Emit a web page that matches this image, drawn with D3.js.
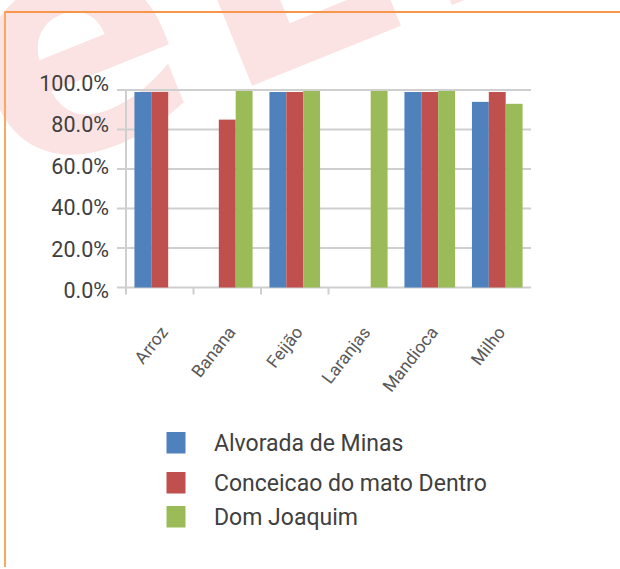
<!DOCTYPE html>
<html>
<head>
<meta charset="utf-8">
<script src="https://cdn.jsdelivr.net/npm/d3@7"></script>
<style>
  body { margin: 0; background: #fff; }
  svg text { font-family: Roboto, "Liberation Sans", sans-serif; }
</style>
</head>
<body>
<svg id="drawing_region"></svg>
<script>
// data
const categories = ["Arroz", "Banana", "Feijão", "Laranjas", "Mandioca", "Milho"];
const seriesNames = ["Alvorada de Minas", "Conceicao do mato Dentro", "Dom Joaquim"];
const alvorada = [0.99, null, 0.99, null, 0.99, 0.94];
const conceicao = [0.99, 0.85, 0.99, null, 0.99, 0.99];
const domJoaquim = [null, 0.995, 0.995, 0.995, 0.995, 0.93];
const yTicks = [0, 0.2, 0.4, 0.6, 0.8, 1.0];
const colors = ["#4f81bd", "#c0504d", "#9bbb59"];

const width = 620;
const height = 569;
const margin = { top: 90, right: 89, bottom: 281.5, left: 126 };

const svg = d3.select("#drawing_region")
  .attr("width", width)
  .attr("height", height);

svg.append("rect").attr("width", width).attr("height", height).attr("fill", "#fff");

// watermark behind everything
svg.append("text")
  .attr("transform", "translate(14, 182) rotate(-22)")
  .style("font-family", "'DejaVu Sans'")
  .style("font-weight", "bold")
  .style("font-size", "310px")
  .style("letter-spacing", "18px")
  .attr("fill", "#fbe3e3")
  .text("eLLL");

// orange frame lines
svg.append("line")
  .attr("x1", 4).attr("x2", width).attr("y1", 12).attr("y2", 12)
  .attr("stroke", "#f7964a").attr("stroke-width", 2);
svg.append("line")
  .attr("x1", 5).attr("x2", 5).attr("y1", 11).attr("y2", 567)
  .attr("stroke", "#f9a860").attr("stroke-width", 2);

const innerW = width - margin.left - margin.right;
const innerH = height - margin.top - margin.bottom;

const chart = svg.append("g")
  .attr("transform", `translate(${margin.left}, ${margin.top})`);

const x0 = d3.scaleBand()
  .domain(categories)
  .range([0, innerW])
  .paddingInner(0.25)
  .paddingOuter(0.125);

const x1 = d3.scaleBand()
  .domain(seriesNames)
  .range([0, x0.bandwidth()]);

const y = d3.scaleLinear().domain([0, 1]).range([innerH, 0]);
// tick labels sit on a slightly wider spacing than the gridlines
const yLabel = d3.scaleLinear().domain([0, 1]).range([innerH + 10.8, 1]);

const fmt = d3.format(".1%");

// gridlines with left tick stubs
chart.append("g")
  .selectAll("line")
  .data(yTicks)
  .join("line")
  .attr("x1", -9)
  .attr("x2", innerW)
  .attr("y1", (d) => y(d))
  .attr("y2", (d) => y(d))
  .attr("stroke", "#cfcfcf")
  .attr("stroke-width", 2);

chart.append("g")
  .selectAll("text")
  .data(yTicks)
  .join("text")
  .attr("x", -17)
  .attr("y", (d) => yLabel(d))
  .attr("text-anchor", "end")
  .attr("fill", "#404040")
  .style("font-size", "21.5px")
  .text((d) => fmt(d));

// value axis line
chart.append("line")
  .attr("x1", 0).attr("x2", 0)
  .attr("y1", 0).attr("y2", innerH + 7)
  .attr("stroke", "#cfcfcf").attr("stroke-width", 2);

// category tick marks (only the first few show in the original)
const boundaries = categories.map((c) => x0(c) - x0.step() * x0.paddingOuter());
chart.append("g")
  .selectAll("line")
  .data(boundaries.slice(1, 4))
  .join("line")
  .attr("x1", (d) => d).attr("x2", (d) => d)
  .attr("y1", innerH).attr("y2", innerH + 7)
  .attr("stroke", "#cfcfcf").attr("stroke-width", 2);

// bars
const series = [alvorada, conceicao, domJoaquim];
const barData = [];
categories.forEach((c, i) => {
  seriesNames.forEach((s, j) => {
    if (series[j][i] != null) {
      barData.push({ category: c, series: s, value: series[j][i], color: colors[j] });
    }
  });
});

chart.append("g")
  .selectAll("rect")
  .data(barData)
  .join("rect")
  .attr("x", (d) => x0(d.category) + x1(d.series))
  .attr("y", (d) => y(d.value))
  .attr("width", x1.bandwidth())
  .attr("height", (d) => innerH - y(d.value))
  .attr("fill", (d) => d.color);

// rotated category labels
chart.append("g")
  .selectAll("text")
  .data(categories)
  .join("text")
  .attr("transform", (d) =>
    `translate(${x0(d) + x0.bandwidth() / 2 + 9}, ${innerH + 45}) rotate(-52)`)
  .attr("text-anchor", "end")
  .attr("fill", "#595959")
  .style("font-size", "17.5px")
  .text((d) => d);

// legend
const legendY = [432, 472, 506];
const legend = svg.append("g")
  .selectAll("g")
  .data(seriesNames)
  .join("g")
  .attr("transform", (d, i) => `translate(166.5, ${legendY[i]})`);

legend.append("rect")
  .attr("width", 19)
  .attr("height", 21.5)
  .attr("fill", (d, i) => colors[i]);

legend.append("text")
  .attr("x", 47.5)
  .attr("y", 18.5)
  .attr("fill", "#404040")
  .style("font-size", "23px")
  .text((d) => d);
</script>
</body>
</html>
